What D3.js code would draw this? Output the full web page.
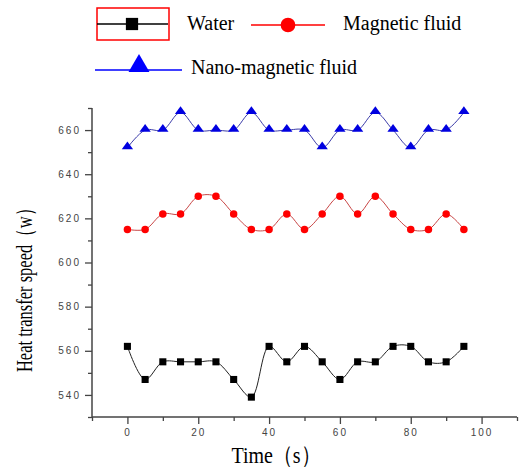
<html>
<meta charset="utf-8" />
<head>
<title>Heat transfer speed</title>
<script src="https://cdn.jsdelivr.net/npm/d3@7"></script>
<style>
	body { margin: 0; background: #fff; }
	.tick text { font-family: Arial, "Liberation Sans", sans-serif; font-size: 10px; fill: #444; letter-spacing: 2px; }
	text.serif { font-family: 'Liberation Serif', 'Times New Roman', serif; fill: #000; }
</style>
</head>
<body>
<svg width="520" height="467"></svg>
<script>
// data
let times = [0, 5, 10, 15, 20, 25, 30, 35, 40, 45, 50, 55, 60, 65, 70, 75, 80, 85, 90, 95];
let water = [562, 547, 555, 555, 555, 555, 547, 539, 562, 555, 562, 555, 547, 555, 555, 562, 562, 555, 555, 562];
let magnetic = [615, 615, 622, 622, 630, 630, 622, 615, 615, 622, 615, 622, 630, 622, 630, 622, 615, 615, 622, 615];
let nano = [652, 660, 660, 668, 660, 660, 660, 668, 660, 660, 660, 652, 660, 660, 668, 660, 652, 660, 660, 668];

let xMajor = [0, 20, 40, 60, 80, 100];
let xMinor = [-10, 10, 30, 50, 70, 90, 110];
let yMajor = [540, 560, 580, 600, 620, 640, 660];
let yMinor = [530, 550, 570, 590, 610, 630, 650, 670];

let seriesNames = ['Water', 'Magnetic fluid', 'Nano-magnetic fluid'];

let svg = d3.select('svg');

let xScale = d3.scaleLinear().domain([-10, 110]).range([92, 517]);
let yScale = d3.scaleLinear().domain([530, 670]).range([417, 108]);

// axes
let axisColor = '#444';
let xAxis = d3.axisBottom(xScale).tickValues(xMajor).tickSize(7).tickPadding(5);
let xAxisMinor = d3.axisBottom(xScale).tickValues(xMinor).tickSize(4).tickFormat('');
let yAxis = d3.axisLeft(yScale).tickValues(yMajor).tickSize(7).tickPadding(4);
let yAxisMinor = d3.axisLeft(yScale).tickValues(yMinor).tickSize(4).tickFormat('');

svg.append('g').attr('transform', 'translate(0,417)').call(xAxisMinor);
svg.append('g').attr('transform', 'translate(0,417)').call(xAxis);
svg.append('g').attr('transform', 'translate(92,0)').call(yAxisMinor);
svg.append('g').attr('transform', 'translate(92,0)').call(yAxis);

svg.selectAll('.domain').attr('d', null);
svg.selectAll('.tick line').style('stroke', axisColor).style('stroke-width', '1.3px');
svg.append('line')
	.attr('x1', xScale(-10)).attr('x2', xScale(110))
	.attr('y1', yScale(530)).attr('y2', yScale(530))
	.style('stroke', axisColor).style('stroke-width', '1.5px');
svg.append('line')
	.attr('x1', xScale(-10)).attr('x2', xScale(-10))
	.attr('y1', yScale(530)).attr('y2', yScale(670))
	.style('stroke', axisColor).style('stroke-width', '1.5px');

// axis titles (the original is a little stretched across the text)
svg.append('text').attr('class', 'serif')
	.attr('transform', 'translate(276,463) scale(1,1.2)')
	.attr('text-anchor', 'middle')
	.style('font-family', "'Liberation Serif', serif")
	.style('font-size', '20px')
	.text('Time（s）');

svg.append('text').attr('class', 'serif')
	.attr('transform', 'translate(32,286) rotate(-90) scale(1,1.4)')
	.attr('text-anchor', 'middle')
	.style('font-family', "'Liberation Serif', serif")
	.style('font-size', '16.5px')
	.text('Heat transfer speed（w）');

// lines
let line = d3.line()
	.x((d, i) => xScale(times[i]))
	.y((d) => yScale(d))
	.curve(d3.curveCatmullRom);

svg.append('path').datum(water).attr('d', line)
	.style('fill', 'none').style('stroke', '#222').style('stroke-width', '1px');
svg.append('path').datum(magnetic).attr('d', line)
	.style('fill', 'none').style('stroke', '#c84444').style('stroke-width', '1px');
svg.append('path').datum(nano).attr('d', line)
	.style('fill', 'none').style('stroke', '#3a3aa8').style('stroke-width', '1px');

// markers
let square = d3.symbol().type(d3.symbolSquare).size(50);
let circle = d3.symbol().type(d3.symbolCircle).size(44);
let triangle = d3.symbol().type(d3.symbolTriangle).size(42);

svg.selectAll('path.water').data(water).enter()
	.append('path').attr('class', 'water')
	.attr('d', square)
	.attr('transform', (d, i) => 'translate(' + xScale(times[i]) + ',' + yScale(d) + ')')
	.style('fill', '#000');

svg.selectAll('path.magnetic').data(magnetic).enter()
	.append('path').attr('class', 'magnetic')
	.attr('d', circle)
	.attr('transform', (d, i) => 'translate(' + xScale(times[i]) + ',' + yScale(d) + ')')
	.style('fill', '#f00');

svg.selectAll('path.nano').data(nano).enter()
	.append('path').attr('class', 'nano')
	.attr('d', triangle)
	.attr('transform', (d, i) => 'translate(' + xScale(times[i]) + ',' + (yScale(d) - 1) + ') scale(1.15,0.9)')
	.style('fill', '#0000e0');

// legend
let legend = svg.append('g');

legend.append('rect')
	.attr('x', 97).attr('y', 8).attr('width', 72).attr('height', 32)
	.style('fill', 'none').style('stroke', '#f00').style('stroke-width', '1.5px');
legend.append('line')
	.attr('x1', 97).attr('x2', 168).attr('y1', 24).attr('y2', 24)
	.style('stroke', '#000').style('stroke-width', '1.5px');
legend.append('path')
	.attr('d', d3.symbol().type(d3.symbolSquare).size(150))
	.attr('transform', 'translate(132,24)')
	.style('fill', '#000');

legend.append('line')
	.attr('x1', 251).attr('x2', 325).attr('y1', 25).attr('y2', 25)
	.style('stroke', '#f00').style('stroke-width', '1.5px');
legend.append('path')
	.attr('d', d3.symbol().type(d3.symbolCircle).size(170))
	.attr('transform', 'translate(288,25)')
	.style('fill', '#f00');

legend.append('line')
	.attr('x1', 95).attr('x2', 182).attr('y1', 70).attr('y2', 70)
	.style('stroke', '#00f').style('stroke-width', '1.5px');
legend.append('path')
	.attr('d', d3.symbol().type(d3.symbolTriangle).size(190))
	.attr('transform', 'translate(139,66)')
	.style('fill', '#00f');

let legendPos = [[187, 30], [343, 30], [191, 74]];
legend.selectAll('text.label').data(seriesNames).enter()
	.append('text').attr('class', 'serif label')
	.attr('x', (d, i) => legendPos[i][0])
	.attr('y', (d, i) => legendPos[i][1])
	.style('font-family', "'Liberation Serif', serif")
	.style('font-size', '20px')
	.text((d) => d);
</script>
</body>
</html>
